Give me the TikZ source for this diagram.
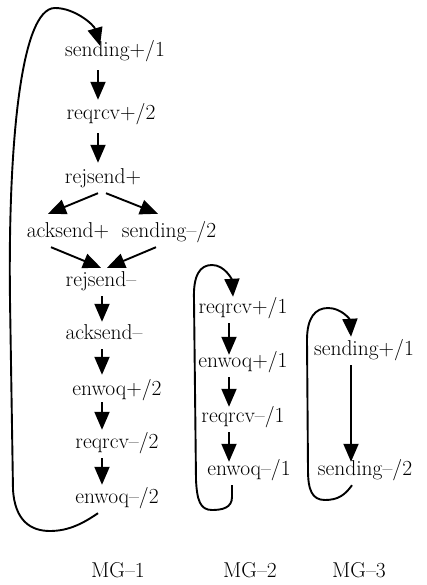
\documentclass[tikz,border=0pt]{standalone}
\usetikzlibrary{arrows.meta}
\begin{document}
\begin{tikzpicture}[x=1pt,y=-1pt,
  lbl/.style={anchor=base,inner xsep=0pt,inner ysep=5pt,text height=15pt,text depth=5pt,font=\fontsize{21.5}{24}\selectfont},
  arr/.style={line width=1.9pt,-{Triangle[length=18pt,width=15pt]}},
  loop/.style={line width=1.9pt,-{Triangle[length=18pt,width=15pt]}}]
\useasboundingbox (0,0) rectangle (427,585);
% MG-1
\node[lbl] (s1) at (115,57) {sending+/1};
\node[lbl] (r2) at (111,120) {reqrcv+/2};
\node[lbl] (j1) at (103,183) {rejsend+};
\node[lbl] (a1) at (68,237) {acksend+};
\node[lbl] (s2) at (169,237) {sending\textendash/2};
\node[lbl] (j2) at (101,286) {rejsend\textendash};
\node[lbl] (a2) at (104,339) {acksend\textendash};
\node[lbl] (e1) at (117,395) {enwoq+/2};
\node[lbl] (r3) at (117,448) {reqrcv\textendash/2};
\node[lbl] (e2) at (117,503) {enwoq\textendash/2};
\draw[arr] ([xshift=-17pt,yshift=-3pt]s1.south) -- ([xshift=-13pt]r2.north);
\draw[arr] ([xshift=-13pt,yshift=-3pt]r2.south) -- ([xshift=-5pt]j1.north);
\draw[arr] ([xshift=-5pt]j1.south) -- ([xshift=-20pt,yshift=3pt]a1.north);
\draw[arr] ([xshift=3pt]j1.south) -- ([xshift=-11pt,yshift=3pt]s2.north);
\draw[arr] ([xshift=-17pt]a1.south) -- ([xshift=0pt,yshift=-2pt]j2.north);
\draw[arr] ([xshift=-13pt]s2.south) -- ([xshift=6pt,yshift=-2pt]j2.north);
\draw[arr] ([xshift=1pt]j2.south) -- ([xshift=-2pt,yshift=-3pt]a2.north);
\draw[arr] ([xshift=-2pt]a2.south) -- ([xshift=-15pt]e1.north);
\draw[arr] ([xshift=-15pt,yshift=3pt]e1.south) -- ([xshift=-15pt,yshift=-2pt]r3.north);
\draw[arr] ([xshift=-15pt]r3.south) -- ([xshift=-15pt,yshift=-2pt]e2.north);
\draw[loop] ([xshift=-19pt]e2.south) .. controls (85,522) and (70,531) .. (50,531)
  .. controls (30,531) and (15,520) .. (13,490) -- (10,300)
  .. controls (8,150) and (20,8) .. (55,8)
  .. controls (75,8) and (94,25) .. ([xshift=-15pt,yshift=-9pt]s1.north);
% MG-2
\node[lbl] (m1) at (243,313) {reqrcv+/1};
\node[lbl] (m2) at (243,367) {enwoq+/1};
\node[lbl] (m3) at (243,422) {reqrcv\textendash/1};
\node[lbl] (m4) at (249,475) {enwoq\textendash/1};
\draw[arr] ([xshift=-14pt]m1.south) -- ([xshift=-14pt,yshift=-8pt]m2.north);
\draw[arr] ([xshift=-14pt]m2.south) -- ([xshift=-14pt,yshift=-5pt]m3.north);
\draw[arr] ([xshift=-14pt]m3.south) -- ([xshift=-20pt,yshift=-7pt]m4.north);
\draw[loop] ([xshift=-17pt]m4.south) -- (232,497) .. controls (232,508) and (222,510) .. (212,510)
  .. controls (200,510) and (197,500) .. (196,480) -- (194,300)
  .. controls (193,275) and (200,265) .. (212,265)
  .. controls (225,265) and (232,280) .. ([xshift=-10pt,yshift=-4pt]m1.north);
% MG-3
\node[lbl] (n1) at (364,355) {sending+/1};
\node[lbl] (n2) at (365,475) {sending\textendash/2};
\draw[arr] ([xshift=-13pt]n1.south) -- ([xshift=-14pt,yshift=-7pt]n2.north);
\draw[loop] ([xshift=-13pt]n2.south) .. controls (345,495) and (338,500) .. (325,500)
  .. controls (312,500) and (308,490) .. (308,470) -- (307,340)
  .. controls (307,318) and (315,308) .. (328,308)
  .. controls (342,308) and (350,320) .. ([xshift=-13pt,yshift=-2pt]n1.north);
% labels
\node[lbl] (g1) at (118,577) {MG\textendash1};
\node[lbl] (g2) at (250,577) {MG\textendash2};
\node[lbl] (g3) at (359,577) {MG\textendash3};
\end{tikzpicture}
\end{document}
